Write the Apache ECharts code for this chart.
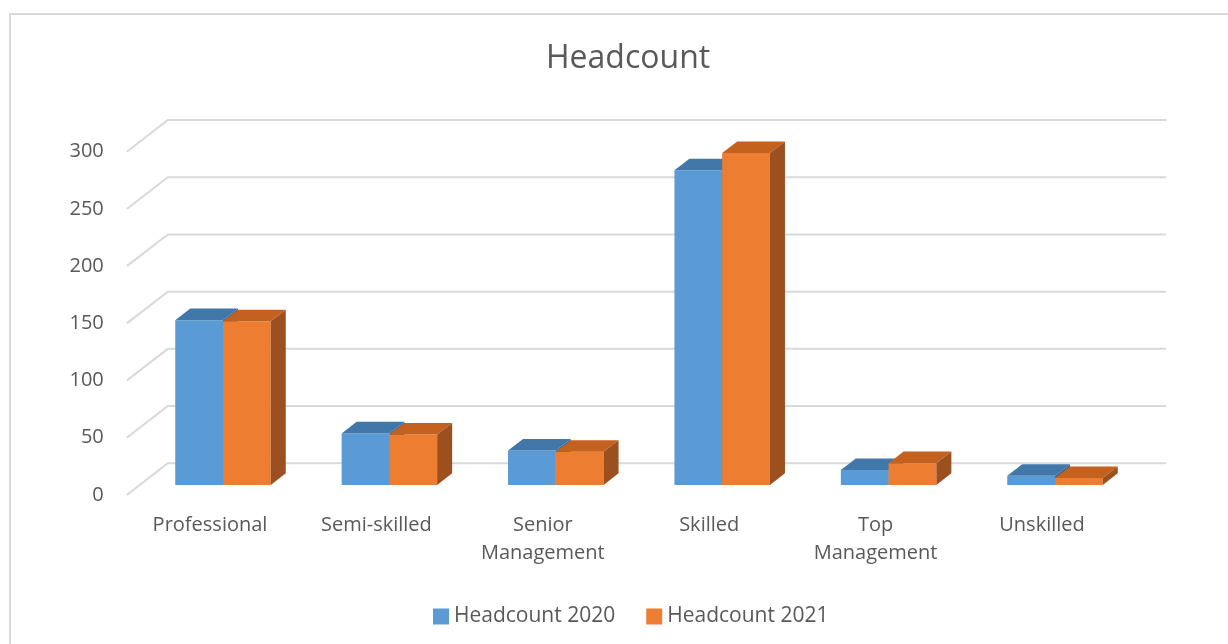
<!DOCTYPE html>
<html>
<head>
<meta charset="utf-8">
<title>Headcount</title>
<script src="https://cdn.jsdelivr.net/npm/echarts@6/dist/echarts.min.js"></script>
<style>
  html, body { margin: 0; padding: 0; background: #ffffff; }
  #chart { width: 1228px; height: 644px; }
</style>
</head>
<body>
<div id="chart"></div>
<script>
// Headcount by occupational level, two years side by side
const categories = ['Professional', 'Semi-skilled', 'Senior\nManagement', 'Skilled', 'Top\nManagement', 'Unskilled'];
const headcount2020 = [144, 45, 30, 275, 13, 8];
const headcount2021 = [143, 44, 29, 290, 19, 6];
const yTicks = [0, 50, 100, 150, 200, 250, 300];

// Oblique projection of the chart depth (front plane -> back wall)
const DEPTH_X = 41;
const DEPTH_Y = -31.7;
const BAR_FRONT = 0.317;   // bars start this far into the depth
const BAR_DEPTH = 0.366;   // and are this deep
const BAR_WIDTH = 0.287;   // fraction of a category band per bar

const TEXT = '#595959';
const FONT = 'Open Sans';

const colors = {
  '2020': { front: '#5B9BD5', top: '#4277AA', side: '#3B6A97' },
  '2021': { front: '#ED7D31', top: '#C4611F', side: '#9C4F1F' }
};

function gridRender(params, api) {
  const cs = params.coordSys;
  const y = api.coord([0, api.value(1)])[1];
  return {
    type: 'polyline',
    shape: {
      points: [
        [cs.x, y],
        [cs.x + DEPTH_X, y + DEPTH_Y],
        [cs.x + cs.width + DEPTH_X, y + DEPTH_Y]
      ]
    },
    style: { stroke: '#D9D9D9', lineWidth: 2, fill: null },
    silent: true
  };
}

function barRender(key, side) {
  const c = colors[key];
  return function (params, api) {
    const i = api.value(0);
    const v = api.value(1);
    const base = api.coord([i, 0]);
    const top = api.coord([i, v]);
    const band = api.size([1, 0])[0];
    const w = band * BAR_WIDTH;
    const fx = DEPTH_X * BAR_FRONT, fy = DEPTH_Y * BAR_FRONT;
    const dx = DEPTH_X * BAR_DEPTH, dy = DEPTH_Y * BAR_DEPTH;
    const x0 = (side < 0 ? base[0] - w : base[0]) + fx;
    const x1 = x0 + w;
    const ty = top[1] + fy;
    const by = base[1] + fy;
    return {
      type: 'group',
      children: [
        {
          type: 'rect',
          shape: { x: x0, y: ty, width: w, height: by - ty },
          style: { fill: c.front }
        },
        {
          type: 'polygon',
          shape: { points: [[x0, ty], [x1, ty], [x1 + dx, ty + dy], [x0 + dx, ty + dy]] },
          style: { fill: c.top }
        },
        {
          type: 'polygon',
          shape: { points: [[x1, ty], [x1 + dx, ty + dy], [x1 + dx, by + dy], [x1, by]] },
          style: { fill: c.side }
        }
      ]
    };
  };
}

const chart = echarts.init(document.getElementById('chart'), null, { renderer: 'canvas' });

chart.setOption({
  backgroundColor: '#ffffff',
  animation: false,
  textStyle: { fontFamily: FONT },
  graphic: [{
    type: 'rect',
    shape: { x: 10, y: 14, width: 1300, height: 700 },
    style: { fill: null, stroke: '#D9D9D9', lineWidth: 2 },
    silent: true,
    z: -10
  }],
  title: {
    text: 'Headcount',
    left: 541,
    top: 38,
    textStyle: { fontFamily: FONT, fontSize: 32, fontWeight: 'normal', color: TEXT }
  },
  legend: {
    data: ['Headcount 2020', 'Headcount 2021'],
    left: 433,
    top: 606,
    padding: 0,
    icon: 'rect',
    itemWidth: 16,
    itemHeight: 16,
    itemGap: 31,
    textStyle: { fontFamily: FONT, fontSize: 21, color: TEXT }
  },
  grid: { left: 126.8, right: 102.8, top: 151.7, bottom: 149 },
  xAxis: {
    type: 'category',
    data: categories,
    axisLine: { show: false },
    axisTick: { show: false },
    splitLine: { show: false },
    axisLabel: {
      interval: 0,
      margin: 16,
      fontFamily: FONT,
      fontSize: 20,
      lineHeight: 28,
      color: TEXT
    }
  },
  yAxis: {
    type: 'value',
    min: 0,
    max: 300,
    interval: 50,
    axisLine: { show: false },
    axisTick: { show: false },
    splitLine: { show: false },
    axisLabel: { margin: 23, fontFamily: FONT, fontSize: 20, color: TEXT }
  },
  series: [
    {
      name: 'gridlines',
      type: 'custom',
      renderItem: gridRender,
      data: yTicks.map(v => [0, v]),
      silent: true,
      z: 1
    },
    {
      name: 'Headcount 2020',
      type: 'custom',
      renderItem: barRender('2020', -1),
      itemStyle: { color: colors['2020'].front },
      data: headcount2020.map((v, i) => [i, v]),
      z: 2
    },
    {
      name: 'Headcount 2021',
      type: 'custom',
      renderItem: barRender('2021', 1),
      itemStyle: { color: colors['2021'].front },
      data: headcount2021.map((v, i) => [i, v]),
      z: 2
    }
  ]
});
</script>
</body>
</html>
